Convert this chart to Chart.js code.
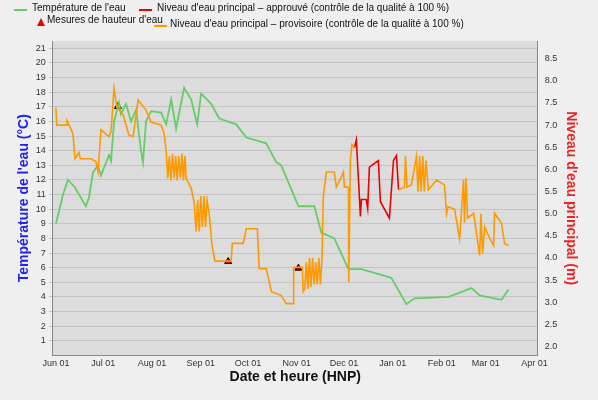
<!DOCTYPE html>
<html>
<head>
<meta charset="utf-8">
<script src="https://cdn.jsdelivr.net/npm/chart.js@4/dist/chart.umd.min.js"></script>
<style>
  body { margin: 0; background: #efefef; font-family: "Liberation Sans", Arial, sans-serif; }
  #wrap { position: relative; width: 598px; height: 400px; }
  .lg { position: absolute; font-size: 10px; color: #111; white-space: nowrap; }
  .ln { position: absolute; width: 13px; height: 2px; }
  .tri { position: absolute; width: 0; height: 0; border-left: 4px solid transparent; border-right: 4px solid transparent; border-bottom: 8px solid #e00; }
</style>
</head>
<body>
<div id="wrap">
  <canvas id="c" width="598" height="400"></canvas>
  <div class="ln" style="left:14px;top:9px;background:#66cc66"></div>
  <div class="lg" style="left:32px;top:2px">Température de l'eau</div>
  <div class="ln" style="left:139px;top:9px;background:#ee0000"></div>
  <div class="lg" style="left:157px;top:2px">Niveau d'eau principal – approuvé (contrôle de la qualité à 100 %)</div>
  <div class="tri" style="left:37px;top:18px"></div>
  <div class="lg" style="left:47px;top:14px">Mesures de hauteur d'eau</div>
  <div class="ln" style="left:154px;top:25px;background:#ff9900"></div>
  <div class="lg" style="left:170px;top:18px">Niveau d'eau principal – provisoire (contrôle de la qualité à 100 %)</div>
</div>
<script>
// days since Jun 01
const monthDays = [0, 30, 61, 92, 122, 153, 183, 214, 245, 273, 304];
const monthLabels = ['Jun 01', 'Jul 01', 'Aug 01', 'Sep 01', 'Oct 01', 'Nov 01', 'Dec 01', 'Jan 01', 'Feb 01', 'Mar 01', 'Apr 01'];
const leftTicks = [1,2,3,4,5,6,7,8,9,10,11,12,13,14,15,16,17,18,19,20,21];
const rightTicks = [2.0,2.5,3.0,3.5,4.0,4.5,5.0,5.5,6.0,6.5,7.0,7.5,8.0,8.5];

const tempDays = [0,4.5,7.6,12,19,21,23.5,26.7,28.6,33.7,35,36.9,40,41.3,44.5,47.7,50.9,54,55.3,57.2,60.4,66.8,70,73.2,76.3,81.4,85.9,89.7,92.2,98.6,103.7,114.5,120.9,133.6,140,143.1,148.2,154,164.1,168.6,176.8,185.8,194,206.7,213.1,222.6,227.7,249.4,264,269.1,283,287.5];
const tempValues = [9.0,11.0,12.0,11.5,10.2,10.8,12.5,13.0,12.3,13.7,13.3,16.0,17.3,16.5,17.2,16.0,16.8,14.0,13.2,16.0,16.7,16.6,15.8,17.5,15.5,18.3,17.5,15.8,17.9,17.2,16.2,15.8,14.9,14.5,13.2,13.0,11.7,10.2,10.2,8.4,8.0,5.9,5.9,5.5,5.3,3.5,3.9,4.0,4.6,4.1,3.8,4.5];

const provDays = [0,0.5,6.4,7,10.8,12.1,14.6,15.5,22.3,25.4,26.7,28.6,33.7,35,36.9,38.8,42.6,46.4,49,52.2,57.2,60.4,66.8,68.7,70,
  71,72,73,74,75,76,77,78,79,80,81,82,82.7,85.9,87.8,
  89,90,91,92,93,94,95,96,97.3,99.2,101,111.3,112,119,120.9,127.9,129.1,133.6,136.8,143.1,146.3,150.8,151,156.5,157,
  158,159,160,161,162,163,164,165,166,167,168,169,169.8,171.8,176.8,178.1,181.3,182.6,183.2,185.8,186,187,188,189.6,
  203,
  217.6,221.4,222,223,225.8,229,230,231,232,233,234,235,236.6,241.7,246.8,248.1,249,253.2,256.4,258.9,259.5,260.5,261.5,265.3,269.1,270,271,272.3,274.8,278,278.6,283,285,287.5];
const provLevel = [7.40,7.0,7.0,7.1,6.81,6.24,6.38,6.24,6.24,6.18,5.95,6.9,6.74,6.87,7.83,7.4,7.24,6.77,6.74,7.57,7.34,7.07,7.0,6.81,6.41,
  5.8,6.3,5.75,6.35,5.8,6.3,5.75,6.3,5.8,6.35,5.75,6.3,5.8,5.58,5.25,
  4.6,5.3,4.6,5.4,4.7,5.4,4.7,5.3,5.0,4.26,3.93,3.93,4.33,4.33,4.66,4.66,3.76,3.76,3.24,3.15,2.97,2.97,3.79,3.79,3.24,
  3.3,3.9,3.3,4.0,3.35,4.0,3.4,3.9,3.4,4.0,3.4,4.0,5.38,5.94,5.94,5.6,5.83,5.94,5.6,5.6,3.46,6.2,6.56,6.49,
  null,
  5.54,5.6,6.3,5.6,5.65,6.3,5.5,6.3,5.5,6.3,5.5,6.2,5.54,5.76,5.65,5.0,5.16,5.10,4.43,5.76,4.8,5.8,4.9,5.01,4.06,5.0,4.1,4.7,4.5,4.28,5.01,4.79,4.32,4.28];

const apprDays = [189.6,190.8,193.4,194,197.1,198,199.1,204.8,206.1,211.8,214.4,216.3,217.6];
const apprLevel = [6.49,6.67,4.94,5.32,5.32,5.12,6.05,6.2,5.27,4.90,6.2,6.31,5.54];

const measDays = [39.4, 109.4, 154];
const measLevel = [7.42, 3.92, 3.77];

const pts = (xs, ys) => xs.map((x, i) => ({ x: x, y: ys[i] }));

const plotBg = {
    id: 'plotBg',
    beforeDraw(chart) {
        const a = chart.chartArea, ctx = chart.ctx;
        ctx.save();
        ctx.fillStyle = '#dcdcdc';
        ctx.fillRect(a.left, a.top, a.right - a.left, a.bottom - a.top);
        ctx.restore();
    }
};

const tickFont = { family: 'Liberation Sans', size: 9 };
const titleFont = { family: 'Liberation Sans', size: 14, weight: 'bold' };

new Chart(document.getElementById('c'), {
    type: 'line',
    data: {
        datasets: [
            { data: pts(provDays, provLevel), yAxisID: 'y2', borderColor: '#ff9900', borderWidth: 1.6, pointRadius: 0, tension: 0, spanGaps: false },
            { data: pts(apprDays, apprLevel), yAxisID: 'y2', borderColor: '#ee0000', borderWidth: 1.6, pointRadius: 0, tension: 0 },
            { data: pts(tempDays, tempValues), yAxisID: 'y', borderColor: '#66cc66', borderWidth: 1.8, pointRadius: 0, tension: 0 },
            { data: pts(measDays, measLevel), yAxisID: 'y2', showLine: false, pointStyle: 'triangle', pointRadius: 4, backgroundColor: '#e00000', borderColor: '#000', borderWidth: 1 }
        ]
    },
    options: {
        responsive: false,
        animation: false,
        layout: { padding: { top: 41, left: 16, right: 17, bottom: 14 } },
        plugins: { legend: { display: false }, tooltip: { enabled: false } },
        scales: {
            x: {
                type: 'linear', min: -2, max: 306,
                afterBuildTicks: axis => { axis.ticks = monthDays.map(v => ({ value: v })); },
                ticks: { color: '#333', font: tickFont, maxRotation: 0, autoSkip: false, padding: 0,
                    callback: v => monthLabels[monthDays.indexOf(v)] },
                grid: { display: false, drawTicks: true, tickLength: 3, color: '#888' },
                border: { color: '#888' },
                title: { display: true, text: 'Date et heure (HNP)', color: '#111', font: titleFont, padding: 0 }
            },
            y: {
                position: 'left', min: 0, max: 21.5,
                afterBuildTicks: axis => { axis.ticks = leftTicks.map(v => ({ value: v })); },
                ticks: { color: '#333', font: tickFont, padding: 3 },
                grid: { color: '#c4c4c4', tickLength: 4 },
                border: { color: '#888' },
                title: { display: true, text: "Température de l'eau (°C)", color: '#2222ee', font: titleFont, padding: 0 }
            },
            y2: {
                position: 'right', min: 1.8, max: 8.9,
                afterBuildTicks: axis => { axis.ticks = rightTicks.map(v => ({ value: v })); },
                ticks: { color: '#333', font: tickFont, padding: 3, callback: v => v.toFixed(1) },
                grid: { display: false, tickLength: 4 },
                border: { color: '#888' },
                title: { display: true, text: "Niveau d'eau principal (m)", color: '#ee2222', font: titleFont, padding: 2 }
            }
        }
    },
    plugins: [plotBg]
});
</script>
</body>
</html>
